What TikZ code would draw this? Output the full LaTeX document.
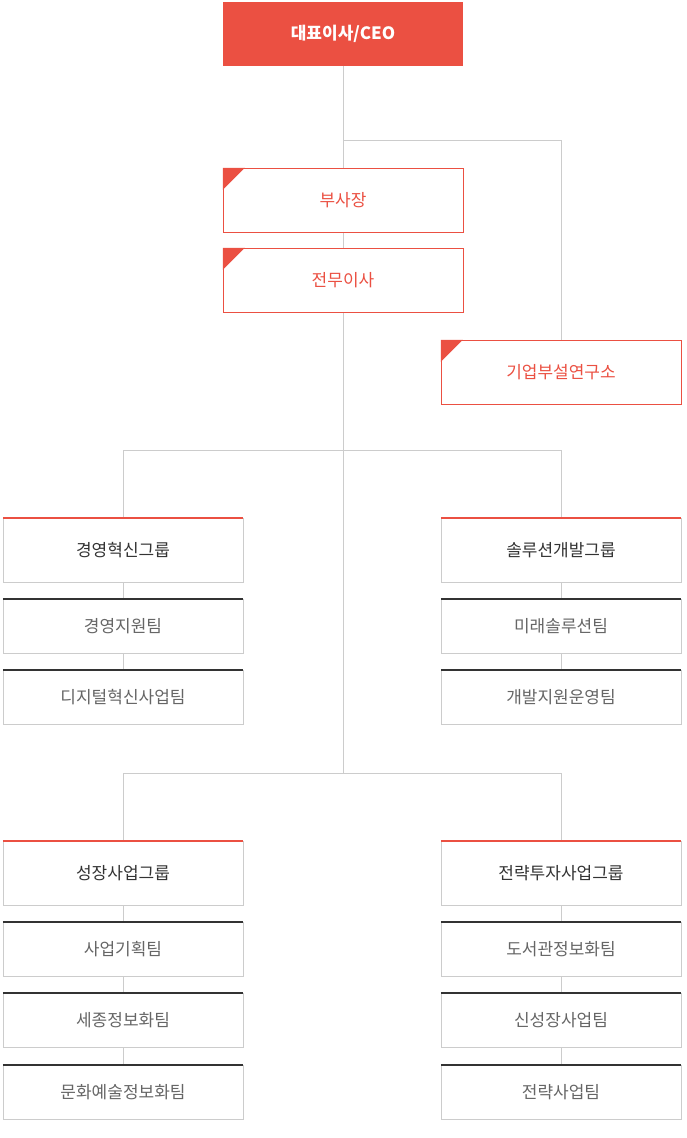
\documentclass[tikz,border=0pt]{standalone}
\usepackage{fontspec}
\setmainfont{Noto Sans CJK KR}
\usetikzlibrary{positioning}
\definecolor{ceored}{HTML}{EB5042}
\definecolor{boxgray}{HTML}{CCCCCC}
\definecolor{txtdark}{HTML}{333333}
\definecolor{txtgray}{HTML}{666666}
\tikzset{
  box/.style={rectangle, minimum width=240pt, minimum height=64pt, inner sep=0pt, font=\fontsize{17}{17}\selectfont},
  ceobox/.style={box, fill=ceored, text=white, font=\fontsize{17}{17}\selectfont\bfseries},
  execbox/.style={box, draw=ceored, fill=white, text=ceored},
  grpbox/.style={box, draw=boxgray, fill=white, text=txtdark},
  teambox/.style={box, minimum height=54pt, draw=boxgray, fill=white, text=txtgray},
  link/.style={draw=boxgray, line width=1pt},
  grptop/.style={draw=ceored, line width=2pt},
  teamtop/.style={draw=txtdark, line width=2pt}
}
\newcommand{\corner}[1]{\fill[ceored] (#1.north west) -- ++(22pt,0) -- ++(-22pt,-22pt) -- cycle;}
\begin{document}
\begin{tikzpicture}[x=1pt, y=-1pt]
  \useasboundingbox (0,0) rectangle (686,1138);

  % lines behind boxes
  \coordinate (j1) at (343,140);
  \coordinate (j1r) at (561,140);
  \coordinate (j2l) at (123,450);
  \coordinate (j2) at (343,450);
  \coordinate (j2r) at (561,450);
  \coordinate (j3l) at (123,773);
  \coordinate (j3) at (343,773);
  \coordinate (j3r) at (561,773);
  \path[link] (343,34) -- (j3);
  \path[link] (j1) -- (j1r) -- (561,372);
  \path[link] (j2l) -- (j2r);
  \path[link] (j3l) -- (j3r);
  \path[link] (j2l) -- (123,697);
  \path[link] (j2r) -- (561,697);
  \path[link] (j3l) -- (123,1092);
  \path[link] (j3r) -- (561,1092);

  \node[ceobox] (ceo) at (343,34) {대표이사/CEO};
  \node[execbox] (vp) at (343,200) {부사장};
  \node[execbox] (dir) at (343,280) {전무이사};
  \node[execbox] (lab) at (561,372) {기업부설연구소};
  \corner{vp} \corner{dir} \corner{lab}

  \node[grpbox] (g1) at (123,550) {경영혁신그룹};
  \node[teambox] (t11) at (123,626) {경영지원팀};
  \node[teambox] (t12) at (123,697) {디지털혁신사업팀};

  \node[grpbox] (g2) at (561,550) {솔루션개발그룹};
  \node[teambox] (t21) at (561,626) {미래솔루션팀};
  \node[teambox] (t22) at (561,697) {개발지원운영팀};

  \node[grpbox] (g3) at (123,873) {성장사업그룹};
  \node[teambox] (t31) at (123,949) {사업기획팀};
  \node[teambox] (t32) at (123,1020) {세종정보화팀};
  \node[teambox] (t33) at (123,1092) {문화예술정보화팀};

  \node[grpbox] (g4) at (561,873) {전략투자사업그룹};
  \node[teambox] (t41) at (561,949) {도서관정보화팀};
  \node[teambox] (t42) at (561,1020) {신성장사업팀};
  \node[teambox] (t43) at (561,1092) {전략사업팀};

  \foreach \g in {g1,g2,g3,g4}
    \draw[grptop] (\g.north west) -- (\g.north east);
  \foreach \t in {t11,t12,t21,t22,t31,t32,t33,t41,t42,t43}
    \draw[teamtop] (\t.north west) -- (\t.north east);
\end{tikzpicture}
\end{document}
